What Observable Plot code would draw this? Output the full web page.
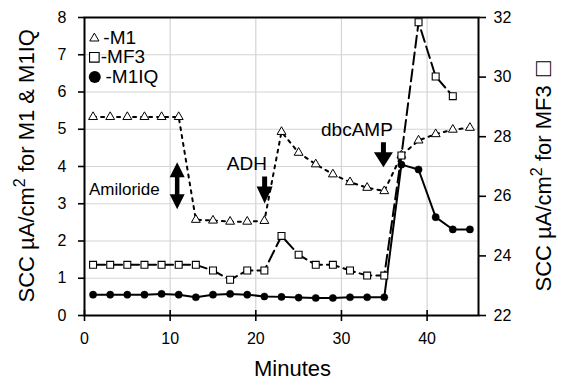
<!DOCTYPE html>
<html><head><meta charset="utf-8">
<script src="https://cdn.jsdelivr.net/npm/d3@7"></script>
<script src="https://cdn.jsdelivr.net/npm/@observablehq/plot@0.6"></script>
<style>
html,body{margin:0;padding:0;background:#fff;}
</style>
</head><body><div id="chart"></div>
<script>
// ---- data ----
const minutesM1 = [1,3,5,7,9,11,13,15,17,19,21,23,25,27,29,31,33,35,37,39,41,43,45];
const m1Values  = [5.33,5.33,5.33,5.33,5.33,5.33,2.57,2.55,2.52,2.52,2.54,4.93,4.37,4.06,3.79,3.58,3.43,3.34,4.30,4.70,4.87,4.99,5.04];
const minutesMF3 = [1,3,5,7,9,11,13,15,17,19,21,23,25,27,29,31,33,35,37,39,41,43];
const mf3Values  = [23.70,23.70,23.70,23.70,23.70,23.70,23.70,23.51,23.20,23.51,23.51,24.67,24.04,23.70,23.70,23.51,23.34,23.34,27.37,31.84,30.02,29.36];
const minutesM1IQ = [1,3,5,7,9,11,13,15,17,19,21,23,25,27,29,31,33,35,37,39,41,43,45];
const m1iqValues  = [0.56,0.56,0.56,0.56,0.58,0.56,0.49,0.56,0.58,0.56,0.51,0.50,0.48,0.47,0.47,0.49,0.49,0.49,4.05,3.92,2.64,2.31,2.31];

const xTicks = [0,10,20,30,40];
const xGrid = [10,20,30,40];
const yTicksLeft = [0,1,2,3,4,5,6,7,8];
const yGrid = [1,2,3,4,5,6,7];
const yTicksRight = [22,24,26,28,30,32];

const annotationText = ["Amiloride","ADH","dbcAMP"];
const annotationX = [4.65, 18.96, 31.81];
const annotationY = [3.37, 4.07, 4.98];
const annotationSize = [17, 19, 19];

const legendLabels = ["-M1","-MF3","-M1IQ"];
const legendY = [7.44, 6.93, 6.40];
const legendSymbolX = [1.15, 1.15, 1.2];
const legendTextX = [2.2, 1.9, 2.45];

// arrows: anchor points in data units
const amilorideArrow = [{x:10.82, y:3.48}];
const adhArrow = [{x:21.03, y:3.73}];
const dbcArrow = [{x:34.9, y:4.65}];

// ---- helpers ----
const right0 = 22, rightSpan = 10, leftSpan = 8;
const toLeft = v => (v - right0) * leftSpan / rightSpan;

const m1 = minutesM1.map((m,i)=>({minute:m, value:m1Values[i]}));
const mf3 = minutesMF3.map((m,i)=>({minute:m, value:toLeft(mf3Values[i])}));
const m1iq = minutesM1IQ.map((m,i)=>({minute:m, value:m1iqValues[i]}));
const notes = annotationText.map((t,i)=>({text:t, x:annotationX[i], y:annotationY[i], size:annotationSize[i]}));
const legend = legendLabels.map((t,i)=>({text:t, y:legendY[i], sx:legendSymbolX[i], tx:legendTextX[i]}));

function downArrow(len, head, headW, stemW){
  return {draw(ctx){
    ctx.moveTo(-stemW/2, 0);
    ctx.lineTo(-stemW/2, len-head);
    ctx.lineTo(-headW/2, len-head);
    ctx.lineTo(0, len);
    ctx.lineTo(headW/2, len-head);
    ctx.lineTo(stemW/2, len-head);
    ctx.lineTo(stemW/2, 0);
    ctx.closePath();
  }};
}
function doubleArrow(len, head, headW, stemW){
  const h = len/2;
  return {draw(ctx){
    ctx.moveTo(0, -h);
    ctx.lineTo(headW/2, -h+head);
    ctx.lineTo(stemW/2, -h+head);
    ctx.lineTo(stemW/2, h-head);
    ctx.lineTo(headW/2, h-head);
    ctx.lineTo(0, h);
    ctx.lineTo(-headW/2, h-head);
    ctx.lineTo(-stemW/2, h-head);
    ctx.lineTo(-stemW/2, -h+head);
    ctx.lineTo(-headW/2, -h+head);
    ctx.closePath();
  }};
}

const font = "'Liberation Sans', Arial, Helvetica, sans-serif";

const chart = Plot.plot({
  width: 564, height: 388,
  marginLeft: 84, marginRight: 86, marginTop: 17, marginBottom: 73,
  x: {domain: [0, 46]},
  y: {domain: [0, 8]},
  style: {fontFamily: font, fontSize: "16px", color: "black", background: "white"},
  marks: [
    Plot.gridX(xGrid, {stroke: "#d4d4d4", strokeOpacity: 1, strokeWidth: 1.2}),
    Plot.gridY(yGrid, {stroke: "#d4d4d4", strokeOpacity: 1, strokeWidth: 1.2}),
    Plot.axisX(xTicks, {tickSize: 6, tickPadding: 11, label: null, strokeWidth: 1.6}),
    Plot.ruleX(xTicks, {x: d => d, insetTop: 293, strokeWidth: 1.6}),
    Plot.axisY(yTicksLeft, {tickSize: 6, tickPadding: 12, label: null, strokeWidth: 1.6}),
    Plot.axisY(yTicksRight.map(toLeft), {anchor: "right", tickSize: 7, tickPadding: 8, label: null, strokeWidth: 1.6,
      tickFormat: d => String(Math.round(d * rightSpan / leftSpan + right0))}),
    Plot.frame({stroke: "black", strokeWidth: 2}),
    Plot.line(m1, {x: "minute", y: "value", stroke: "black", strokeWidth: 2, strokeDasharray: "3,5"}),
    Plot.line(mf3, {x: "minute", y: "value", stroke: "black", strokeWidth: 2, strokeDasharray: "12,5"}),
    Plot.line(m1iq, {x: "minute", y: "value", stroke: "black", strokeWidth: 2}),
    Plot.dot(m1, {x: "minute", y: "value", symbol: "triangle", r: 3.3, fill: "white", stroke: "black", strokeWidth: 1}),
    Plot.dot(mf3, {x: "minute", y: "value", symbol: "square", r: 3.9, fill: "white", stroke: "black", strokeWidth: 1.1}),
    Plot.dot(m1iq, {x: "minute", y: "value", symbol: "circle", r: 3.6, fill: "black", stroke: "black", strokeWidth: 0.5}),
    // annotations
    Plot.text(notes, {x: "x", y: "y", text: "text", fontSize: d => d.size, textAnchor: "middle", lineAnchor: "middle", fill: "black"}),
    Plot.dot(amilorideArrow, {x: "x", y: "y", symbol: doubleArrow(47, 15, 15, 4.5), fill: "black", stroke: "none"}),
    Plot.dot(adhArrow, {x: "x", y: "y", symbol: downArrow(27, 17, 16, 5), fill: "black", stroke: "none"}),
    Plot.dot(dbcArrow, {x: "x", y: "y", symbol: downArrow(25, 15, 19, 5), fill: "black", stroke: "none"}),
    // legend
    Plot.dot([legend[0]], {x: "sx", y: "y", symbol: "triangle", r: 3.4, fill: "white", stroke: "black", strokeWidth: 1}),
    Plot.dot([legend[1]], {x: "sx", y: "y", symbol: "square", r: 5.4, fill: "white", stroke: "black", strokeWidth: 1.1}),
    Plot.dot([legend[2]], {x: "sx", y: "y", symbol: "circle", r: 6, fill: "black"}),
    Plot.text(legend, {x: "tx", y: "y", text: "text", fontSize: 19, textAnchor: "start", lineAnchor: "middle", fill: "black"}),
    // axis titles
    Plot.text(["Minutes"], {text: d => d, frameAnchor: "bottom", dx: 11, dy: 60, lineAnchor: "bottom", fontSize: 22, fill: "black"}),
    Plot.text(["SCC µA/cm² for M1 & M1IQ"], {text: d => d, frameAnchor: "bottom-left", rotate: -90, dx: -51, dy: -13, textAnchor: "start", lineAnchor: "bottom", fontSize: 22, fill: "black"}),
    Plot.text(["SCC µA/cm² for MF3 □"], {text: d => d, frameAnchor: "bottom-right", rotate: -90, dx: 72.7, dy: -24, textAnchor: "start", lineAnchor: "bottom", fontSize: 22, fill: "black"})
  ]
});

// superscript and square glyph as tspans (real text)
chart.querySelectorAll("text").forEach(t => {
  const s = t.textContent;
  if (!s.includes("²")) return;
  const [a, b] = s.split("²");
  t.textContent = "";
  const mk = (txt, attrs) => {
    const ts = document.createElementNS("http://www.w3.org/2000/svg", "tspan");
    ts.textContent = txt;
    for (const k in attrs) ts.setAttribute(k, attrs[k]);
    t.appendChild(ts);
  };
  mk(a, {});
  mk("2", {"font-size": "16px", dy: "-9"});
  if (b.includes("□")) {
    const [c] = b.split("□");
    mk(c.trimEnd(), {dy: "9"});
    mk("□", {"font-size": "25px", dx: "9"});
  } else {
    mk(b, {dy: "9"});
  }
});

document.getElementById("chart").appendChild(chart);
</script>
</body></html>
